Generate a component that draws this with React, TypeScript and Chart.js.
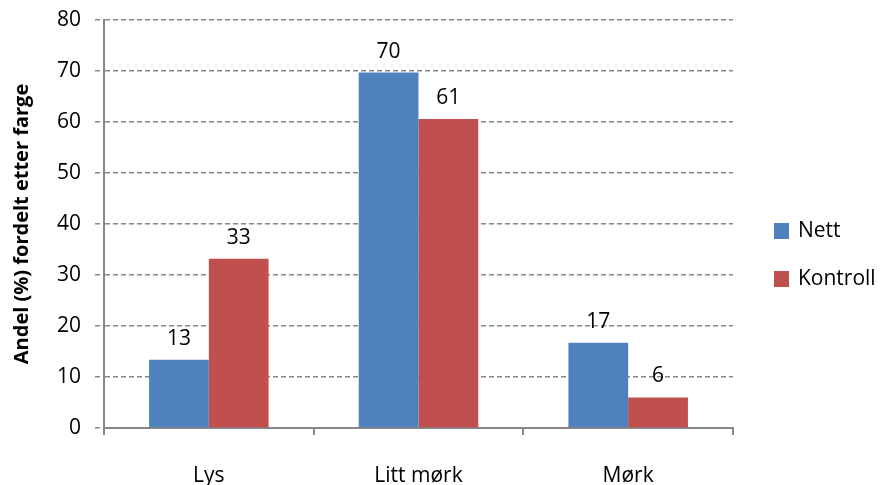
import React, { useEffect, useRef } from "react";
import { Chart, registerables } from "chart.js";

Chart.register(...registerables);

const categories = ["Lys", "Litt mørk", "Mørk"];
const nettValues = [13.4, 69.7, 16.7];
const kontrollValues = [33.2, 60.6, 6.0];
const seriesNames = ["Nett", "Kontroll"];
const seriesColors = ["#4F81BD", "#C0504D"];
const yTitle = "Andel (%) fordelt etter farge";

const FONT = "'Open Sans', sans-serif";
const FS = 21;

const valueLabels = {
  id: "valueLabels",
  afterDatasetsDraw(chart: any) {
    const ctx = chart.ctx;
    ctx.save();
    ctx.font = `${FS}px ${FONT}`;
    ctx.fillStyle = "#000";
    ctx.textAlign = "center";
    ctx.textBaseline = "alphabetic";
    chart.data.datasets.forEach((ds: any, di: number) => {
      const meta = chart.getDatasetMeta(di);
      meta.data.forEach((bar: any, i: number) => {
        const v = ds.data[i];
        ctx.fillText(String(Math.round(v)), bar.x, bar.y - 15);
      });
    });
    ctx.restore();
  },
};

const customLegend = {
  id: "customLegend",
  afterDraw(chart: any) {
    const ctx = chart.ctx;
    ctx.save();
    ctx.font = `${FS}px ${FONT}`;
    ctx.textAlign = "left";
    ctx.textBaseline = "middle";
    const ys = [231, 279];
    chart.data.datasets.forEach((ds: any, di: number) => {
      const y = ys[di];
      ctx.fillStyle = ds.backgroundColor;
      ctx.fillRect(774, y - 8, 15, 16);
      ctx.fillStyle = "#000";
      ctx.fillText(ds.label, 798, y);
    });
    ctx.restore();
  },
};

export default function App() {
  const ref = useRef<HTMLCanvasElement | null>(null);
  useEffect(() => {
    document.body.style.margin = "0";
    const chart = new Chart(ref.current as HTMLCanvasElement, {
      type: "bar",
      data: {
        labels: categories,
        datasets: [
          { label: seriesNames[0], data: nettValues, backgroundColor: seriesColors[0] },
          { label: seriesNames[1], data: kontrollValues, backgroundColor: seriesColors[1] },
        ],
      },
      options: {
        animation: false,
        responsive: false,
        devicePixelRatio: 1,
        layout: { padding: { top: 20, right: 152, left: 10, bottom: 0 } },
        plugins: { legend: { display: false }, tooltip: { enabled: false } },
        datasets: { bar: { categoryPercentage: 0.57, barPercentage: 1.0 } },
        scales: {
          x: {
            offset: true,
            grid: {
              offset: true,
              drawOnChartArea: false,
              drawTicks: true,
              tickLength: 7,
              color: "#878787",
              lineWidth: 2,
            },
            border: { color: "#878787", width: 2 },
            ticks: { color: "#000", font: { family: FONT, size: FS }, padding: 28 },
            afterFit(scale: any) {
              scale.height = 57;
              scale.paddingLeft = 0;
              scale.paddingRight = 0;
            },
          },
          y: {
            min: 0,
            max: 80,
            ticks: { stepSize: 10, color: "#000", font: { family: FONT, size: FS }, padding: 14 },
            grid: {
              color: "#878787",
              lineWidth: 1.5,
              tickLength: 9,
              tickBorderDash: [5, 3],
            },
            border: { color: "#878787", width: 2, dash: [5, 3] },
            title: {
              display: true,
              text: yTitle,
              color: "#000",
              font: { family: FONT, size: 20, weight: "bold" },
              padding: { top: 0, bottom: 4 },
            },
            afterFit(scale: any) {
              scale.width = 94;
              scale.paddingTop = 0;
              scale.paddingBottom = 0;
            },
          },
        },
      } as any,
      plugins: [valueLabels, customLegend],
    });
    return () => chart.destroy();
  }, []);
  return (
    <div style={{ width: 885, height: 485 }}>
      <canvas ref={ref} width={885} height={485} />
    </div>
  );
}
